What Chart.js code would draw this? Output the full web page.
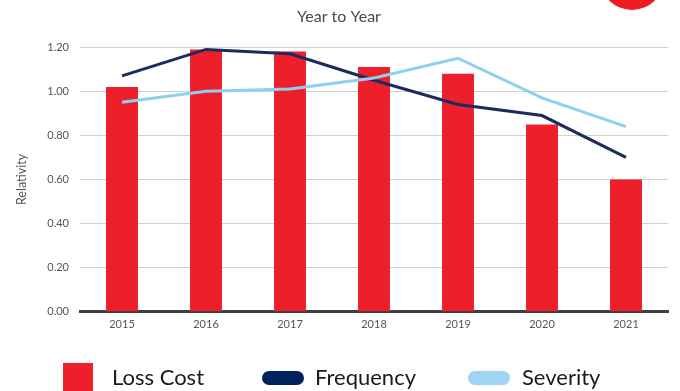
<!DOCTYPE html>
<html lang="en">
<head>
    <meta charset="UTF-8">
    <title>Year to Year</title>
    <script src="https://cdn.jsdelivr.net/npm/chart.js"></script>
    <style>
        body { margin: 0; background: #fff; }
        .wrap { position: relative; width: 680px; height: 391px; overflow: hidden; }
        .badge {
            position: absolute; left: 600px; top: -54px;
            width: 64px; height: 64px; border-radius: 50%; background: #ed1c24;
        }
        .legend { position: absolute; left: 0; top: 0; width: 680px; height: 391px; pointer-events: none;
                  font-family: Lato, sans-serif; font-size: 22px; color: #1a1a1a; }
        .legend .sw { position: absolute; }
        .legend .lbl { position: absolute; top: 363px; line-height: 28px; }
    </style>
</head>
<body>
    <div class="wrap">
        <canvas id="chart" width="680" height="391"></canvas>
        <div class="badge"></div>
        <div class="legend" id="legend"></div>
    </div>

    <script>
        const years = ['2015', '2016', '2017', '2018', '2019', '2020', '2021'];
        const lossCost = [1.02, 1.19, 1.18, 1.11, 1.08, 0.85, 0.60];
        const frequency = [1.07, 1.19, 1.17, 1.05, 0.94, 0.89, 0.70];
        const severity = [0.95, 1.00, 1.01, 1.06, 1.15, 0.97, 0.84];

        const RED = '#ed1f2b';
        const NAVY = '#1c2a5e';
        const SKY = '#8fd0f0';

        const tickFont = { family: 'Lato, sans-serif', size: 11 };

        const chart = new Chart(document.getElementById('chart'), {
            type: 'bar',
            data: {
                labels: years,
                datasets: [
                    {
                        type: 'line', label: 'Frequency', data: frequency,
                        borderColor: NAVY, backgroundColor: '#002060',
                        borderWidth: 3, pointRadius: 0, tension: 0, order: 2
                    },
                    {
                        type: 'line', label: 'Severity', data: severity,
                        borderColor: SKY, backgroundColor: '#9dd5f2',
                        borderWidth: 3, pointRadius: 0, tension: 0, order: 1
                    },
                    {
                        label: 'Loss Cost', data: lossCost,
                        backgroundColor: RED,
                        categoryPercentage: 1, barPercentage: 0.38, order: 3
                    }
                ]
            },
            options: {
                responsive: false,
                animation: false,
                layout: { padding: { left: 10, right: 12, bottom: 54 } },
                plugins: {
                    legend: { display: false },
                    tooltip: { enabled: false },
                    title: {
                        display: true, text: 'Year to Year', color: '#4a4a4a',
                        font: { family: 'Lato, sans-serif', size: 16, weight: 'normal' },
                        padding: { top: 7, bottom: 21 }
                    }
                },
                scales: {
                    x: {
                        grid: { display: false, drawTicks: false },
                        border: { color: '#404040', width: 3 },
                        ticks: { color: '#555', font: tickFont, padding: 6 }
                    },
                    y: {
                        min: 0, max: 1.2,
                        afterFit: s => { s.width = 70; },
                        grid: { color: '#d0d0d0', lineWidth: 1, drawTicks: false },
                        border: { display: false },
                        ticks: {
                            stepSize: 0.2, color: '#555', font: tickFont, padding: 11,
                            callback: v => v.toFixed(2)
                        },
                        title: {
                            display: true, text: 'Relativity', color: '#555',
                            font: { family: 'Lato, sans-serif', size: 12.5 }
                        }
                    }
                }
            }
        });

        // legend built from the dataset labels and colours
        const legend = document.getElementById('legend');
        const entries = [
            { ds: chart.data.datasets[2], sw: 63, txt: 112, box: true },
            { ds: chart.data.datasets[0], sw: 262, txt: 315 },
            { ds: chart.data.datasets[1], sw: 468, txt: 522 }
        ];
        entries.forEach(e => {
            const sw = document.createElement('div');
            sw.className = 'sw';
            sw.style.left = e.sw + 'px';
            if (e.box) {
                Object.assign(sw.style, { top: '363px', width: '30px', height: '30px', background: e.ds.backgroundColor });
            } else {
                Object.assign(sw.style, { top: '371px', width: '42px', height: '14px', borderRadius: '7px', background: e.ds.backgroundColor });
            }
            const lbl = document.createElement('div');
            lbl.className = 'lbl';
            lbl.style.left = e.txt + 'px';
            lbl.textContent = e.ds.label;
            legend.appendChild(sw);
            legend.appendChild(lbl);
        });
    </script>
</body>
</html>
